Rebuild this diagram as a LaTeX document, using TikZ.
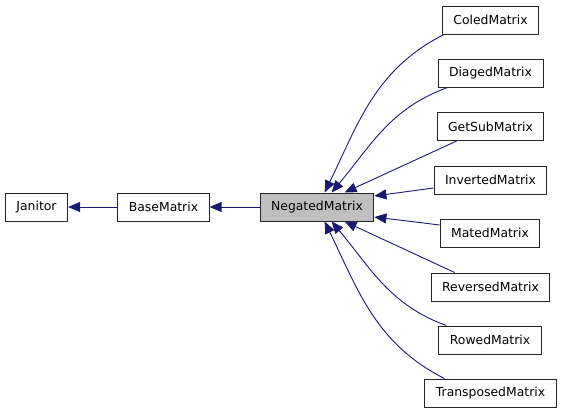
\documentclass[tikz,border=0pt]{standalone}
\usepackage{fontspec}
\setmainfont{DejaVu Sans}
\usepackage{tikz}
\usetikzlibrary{arrows.meta}
\definecolor{edgeblue}{RGB}{25,25,112}
\definecolor{boxgray}{RGB}{191,191,191}

\begin{document}
\begin{tikzpicture}[x=1pt,y=1pt]
        \tikzstyle{every node}+=[font=\fontsize{12.4}{14}\selectfont]
        \tikzstyle{cls}=[draw=black!85, line width=1pt, fill=white, minimum height=28pt, inner xsep=11pt, inner ysep=0pt]
        \tikzstyle{inh}=[edgeblue, line width=0.9pt, -{Triangle[length=12pt,width=10pt]}]
        \useasboundingbox (0,0) rectangle (563,-413);
        % classes
        \node [cls] (janitor) at (36.5,-207) {Janitor};
        \node [cls] (base) at (163.5,-207) {BaseMatrix};
        \node [cls, fill=boxgray] (neg) at (317,-207) {NegatedMatrix};
        \node [cls] (coled) at (490.5,-20) {ColedMatrix};
        \node [cls] (diaged) at (490.5,-73) {DiagedMatrix};
        \node [cls] (getsub) at (490.5,-126.5) {GetSubMatrix};
        \node [cls] (inverted) at (490.5,-180) {InvertedMatrix};
        \node [cls] (mated) at (490,-233) {MatedMatrix};
        \node [cls] (reversed) at (490.5,-287) {ReversedMatrix};
        \node [cls] (rowed) at (490,-340) {RowedMatrix};
        \node [cls] (transposed) at (490.5,-393) {TransposedMatrix};
        % inheritance
        \draw [inh] (base) -- (janitor);
        \draw [inh] (neg) -- (base);
        \draw [inh] ([xshift=2pt]coled.south west) to [out=207,in=64] ([xshift=65pt]neg.north west);
        \draw [inh] ([xshift=10pt]diaged.south west) to [out=200,in=50] ([xshift=72pt]neg.north west);
        \draw [inh] ([xshift=20pt]getsub.south west) -- ([xshift=85pt]neg.north west);
        \draw [inh] ([yshift=-8pt]inverted.west) -- ([yshift=11pt]neg.east);
        \draw [inh] ([yshift=8pt]mated.west) -- ([yshift=-10pt]neg.east);
        \draw [inh] ([xshift=24pt]reversed.north west) -- ([xshift=85pt]neg.south west);
        \draw [inh] ([xshift=8pt]rowed.north west) to [out=160,in=-50] ([xshift=72pt]neg.south west);
        \draw [inh] ([xshift=20pt]transposed.north west) to [out=153,in=-64] ([xshift=65pt]neg.south west);
    \end{tikzpicture}
\end{document}
